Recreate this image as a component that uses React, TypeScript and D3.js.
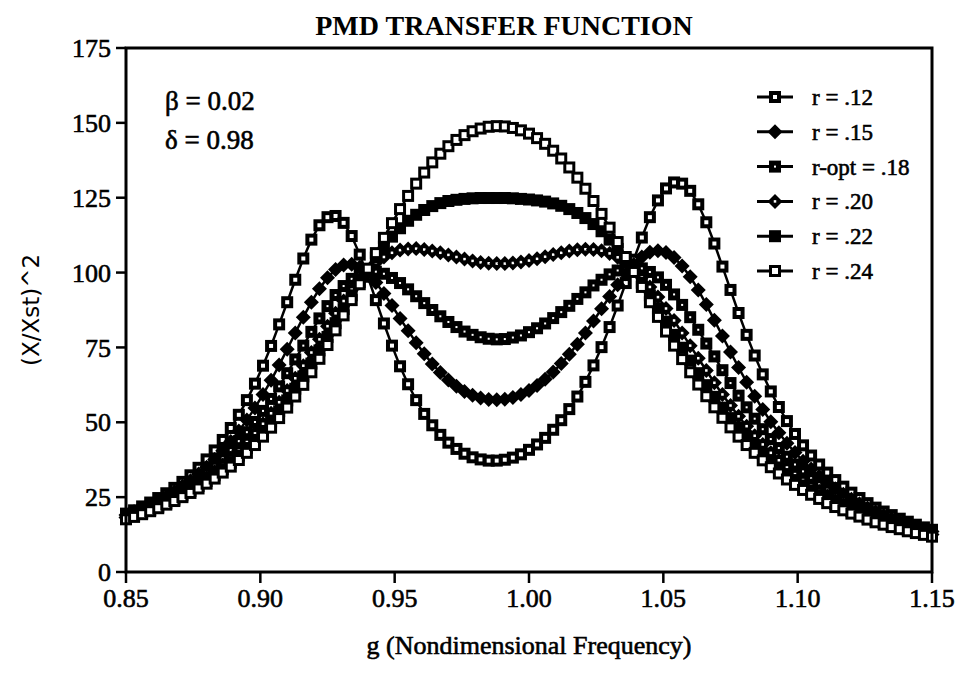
import * as d3 from "d3";

// nondimensional frequency g, one sample every 0.003
const gValues = [
  0.85, 0.853, 0.856, 0.859, 0.862, 0.865, 0.868, 0.871, 0.874, 0.877,
  0.88, 0.883, 0.886, 0.889, 0.892, 0.895, 0.898, 0.901, 0.904, 0.907,
  0.91, 0.913, 0.916, 0.919, 0.922, 0.925, 0.928, 0.931, 0.934, 0.937,
  0.94, 0.943, 0.946, 0.949, 0.952, 0.955, 0.958, 0.961, 0.964, 0.967,
  0.97, 0.973, 0.976, 0.979, 0.982, 0.985, 0.988, 0.991, 0.994, 0.997,
  1.0, 1.003, 1.006, 1.009, 1.012, 1.015, 1.018, 1.021, 1.024, 1.027,
  1.03, 1.033, 1.036, 1.039, 1.042, 1.045, 1.048, 1.051, 1.054, 1.057,
  1.06, 1.063, 1.066, 1.069, 1.072, 1.075, 1.078, 1.081, 1.084, 1.087,
  1.09, 1.093, 1.096, 1.099, 1.102, 1.105, 1.108, 1.111, 1.114, 1.117,
  1.12, 1.123, 1.126, 1.129, 1.132, 1.135, 1.138, 1.141, 1.144, 1.147,
  1.15,
];

// (X/Xst)^2 for each r
const r12 = [
  19.5, 20.6, 21.9, 23.2, 24.7, 26.3, 28.1, 30.1, 32.3, 34.8,
  37.6, 40.6, 44.1, 48.1, 52.5, 57.4, 62.9, 68.9, 75.5, 82.7,
  90.1, 97.6, 104.7, 111.0, 115.8, 118.5, 118.9, 116.6, 112.2, 106.0,
  98.6, 90.8, 83.0, 75.6, 68.7, 62.7, 57.4, 52.8, 49.0, 45.8,
  43.2, 41.1, 39.5, 38.3, 37.6, 37.2, 37.2, 37.5, 38.2, 39.3,
  40.8, 42.6, 44.8, 47.5, 50.7, 54.4, 58.6, 63.5, 69.0, 75.1,
  81.8, 89.0, 96.5, 104.3, 111.7, 118.5, 124.1, 128.1, 130.1, 129.7,
  127.3, 122.8, 116.8, 109.7, 102.0, 94.2, 86.5, 79.2, 72.3, 66.0,
  60.3, 55.1, 50.4, 46.1, 42.3, 38.9, 35.9, 33.2, 30.7, 28.5,
  26.5, 24.7, 23.0, 21.5, 20.2, 19.0, 17.8, 16.8, 15.8, 14.9,
  14.1,
];

const r15 = [
  19.0, 20.1, 21.2, 22.4, 23.8, 25.2, 26.8, 28.6, 30.5, 32.7,
  35.0, 37.6, 40.5, 43.6, 47.1, 50.8, 54.8, 59.3, 64.0, 69.1,
  74.4, 79.8, 85.1, 90.1, 94.6, 98.3, 101.0, 102.5, 102.8, 101.8,
  99.7, 96.7, 93.0, 89.0, 84.7, 80.6, 76.6, 72.9, 69.5, 66.6,
  64.1, 62.0, 60.3, 59.0, 58.1, 57.6, 57.5, 57.7, 58.3, 59.3,
  60.6, 62.3, 64.4, 66.8, 69.6, 72.7, 76.1, 79.8, 83.8, 87.9,
  92.0, 95.9, 99.6, 102.7, 105.2, 106.8, 107.3, 106.7, 105.0, 102.2,
  98.6, 94.2, 89.3, 84.1, 78.8, 73.5, 68.3, 63.4, 58.7, 54.3,
  50.2, 46.5, 43.0, 39.9, 37.0, 34.4, 32.0, 29.8, 27.8, 26.0,
  24.3, 22.8, 21.4, 20.1, 18.9, 17.8, 16.8, 15.9, 15.0, 14.3,
  13.5,
];

const r18 = [
  18.6, 19.6, 20.7, 21.8, 23.0, 24.4, 25.9, 27.5, 29.2, 31.1,
  33.2, 35.5, 38.0, 40.7, 43.7, 46.7, 50.1, 53.8, 57.8, 62.0,
  66.4, 71.0, 75.6, 80.2, 84.7, 88.8, 92.5, 95.5, 97.9, 99.5,
  100.3, 100.3, 99.6, 98.2, 96.5, 94.4, 92.1, 89.8, 87.5, 85.4,
  83.5, 81.8, 80.3, 79.2, 78.4, 77.9, 77.7, 77.8, 78.3, 79.0,
  80.1, 81.4, 83.0, 84.8, 86.8, 88.9, 91.2, 93.4, 95.7, 97.6,
  99.4, 100.7, 101.6, 101.8, 101.4, 100.2, 98.4, 95.9, 92.7, 89.2,
  85.1, 80.9, 76.3, 72.0, 67.4, 63.1, 58.9, 55.0, 51.2, 47.7,
  44.4, 41.4, 38.5, 35.9, 33.6, 31.3, 29.3, 27.5, 25.7, 24.2,
  22.7, 21.4, 20.1, 19.0, 17.9, 17.0, 16.1, 15.2, 14.4, 13.7,
  13.0,
];

const r20 = [
  18.2, 19.1, 20.1, 21.2, 22.3, 23.5, 24.9, 26.3, 27.9, 29.6,
  31.5, 33.5, 35.7, 38.0, 40.6, 43.4, 46.3, 49.5, 53.0, 56.7,
  60.6, 64.7, 68.9, 73.3, 77.7, 82.1, 86.4, 90.5, 94.3, 97.8,
  100.8, 103.3, 105.2, 106.6, 107.5, 107.9, 108.0, 107.7, 107.2, 106.6,
  105.9, 105.2, 104.5, 103.9, 103.4, 103.1, 103.0, 103.0, 103.2, 103.5,
  104.0, 104.6, 105.3, 106.0, 106.6, 107.2, 107.6, 107.8, 107.7, 107.3,
  106.4, 105.1, 103.3, 101.0, 98.4, 95.2, 91.8, 88.0, 84.0, 79.8,
  75.6, 71.4, 67.3, 63.2, 59.3, 55.6, 52.0, 48.7, 45.5, 42.6,
  39.8, 37.3, 34.9, 32.7, 30.7, 28.8, 27.0, 25.4, 23.9, 22.5,
  21.3, 20.1, 19.0, 17.9, 17.0, 16.1, 15.3, 14.5, 13.8, 13.1,
  12.5,
];

const r22 = [
  17.9, 18.8, 19.7, 20.7, 21.8, 23.0, 24.2, 25.6, 27.1, 28.7,
  30.4, 32.3, 34.3, 36.5, 38.9, 41.4, 44.1, 47.1, 50.3, 53.7,
  57.3, 61.2, 65.3, 69.6, 74.0, 78.5, 83.1, 87.8, 92.4, 96.8,
  101.0, 105.0, 108.7, 112.0, 114.8, 117.3, 119.3, 120.9, 122.2, 123.2,
  123.9, 124.3, 124.6, 124.8, 124.9, 124.9, 124.9, 124.9, 124.8, 124.6,
  124.4, 124.1, 123.7, 123.1, 122.3, 121.2, 119.9, 118.2, 116.2, 113.8,
  111.0, 107.9, 104.4, 100.6, 96.6, 92.4, 88.0, 83.6, 79.2, 74.9,
  70.6, 66.4, 62.4, 58.5, 54.9, 51.4, 48.2, 45.1, 42.3, 39.6,
  37.1, 34.8, 32.7, 30.7, 28.9, 27.2, 25.6, 24.1, 22.7, 21.5,
  20.3, 19.2, 18.2, 17.2, 16.4, 15.5, 14.8, 14.0, 13.4, 12.7,
  12.2,
];

const r24 = [
  17.6, 18.4, 19.3, 20.3, 21.3, 22.5, 23.7, 25.0, 26.4, 27.9,
  29.5, 31.2, 33.2, 35.2, 37.4, 39.8, 42.4, 45.2, 48.2, 51.4,
  54.9, 58.6, 62.5, 66.7, 71.2, 75.8, 80.7, 85.7, 90.8, 96.1,
  101.3, 106.5, 111.6, 116.5, 121.2, 125.6, 129.7, 133.4, 136.8, 139.7,
  142.2, 144.3, 145.9, 147.2, 148.1, 148.7, 148.9, 148.8, 148.3, 147.5,
  146.4, 144.9, 143.0, 140.7, 138.1, 135.1, 131.7, 128.0, 123.9, 119.6,
  115.0, 110.2, 105.2, 100.2, 95.2, 90.1, 85.2, 80.3, 75.6, 71.1,
  66.7, 62.6, 58.7, 55.0, 51.5, 48.3, 45.2, 42.4, 39.8, 37.3,
  35.0, 32.9, 30.9, 29.1, 27.4, 25.8, 24.4, 23.0, 21.7, 20.6,
  19.5, 18.5, 17.5, 16.6, 15.8, 15.0, 14.3, 13.6, 13.0, 12.4,
  11.8,
];

const xTicks = [0.85, 0.9, 0.95, 1.0, 1.05, 1.1, 1.15];
const yTicks = [0, 25, 50, 75, 100, 125, 150, 175];

const seriesLabels = ["r = .12", "r = .15", "r-opt = .18", "r = .20", "r = .22", "r = .24"];
const seriesValues = [r12, r15, r18, r20, r22, r24];
// marker shape and size of the white hole in it
const markerShapes = ["square", "diamond", "square", "diamond", "square", "square"];
const markerHoles = [4, 0, 2, 2.5, 0, 6];

const width = 958;
const height = 673;
const margin = { left: 126, right: 26, top: 48, bottom: 101 };

const SERIF = "'Liberation Serif', 'DejaVu Serif', serif";
// the scan's type is heavy, a thin outline thickens the glyphs
const INK = { stroke: "#000", strokeWidth: 0.6 };

const Marker = ({ x, y, shape, hole }) => {
  if (shape === "diamond") {
    const s = 7.5;
    return (
      <g>
        <path d={`M${x},${y - s}L${x + s},${y}L${x},${y + s}L${x - s},${y}Z`} fill="#000" />
        {hole > 0 && (
          <rect x={x - hole / 2} y={y - hole / 2} width={hole} height={hole} fill="#fff" />
        )}
      </g>
    );
  }
  const s = 6;
  return (
    <g>
      <rect x={x - s} y={y - s} width={s * 2} height={s * 2} fill="#000" />
      {hole > 0 && (
        <rect x={x - hole / 2} y={y - hole / 2} width={hole} height={hole} fill="#fff" />
      )}
    </g>
  );
};

export default function App() {
  const x = d3
    .scaleLinear()
    .domain([0.85, 1.15])
    .range([margin.left, width - margin.right]);
  const y = d3
    .scaleLinear()
    .domain([0, 175])
    .range([height - margin.bottom, margin.top]);

  const line = d3
    .line<number>()
    .x((_, i) => x(gValues[i]))
    .y((d) => y(d));

  const x0 = x(0.85);
  const x1 = x(1.15);
  const yb = y(0);
  const yt = y(175);

  const legendX = 775;
  const legendY0 = 97;
  const legendStep = 34.8;

  return (
    <svg
      width={width}
      height={height}
      style={{ position: "absolute", left: 0, top: 0, background: "#fff" }}
    >
      <text
        x={504}
        y={35}
        textAnchor="middle"
        fontFamily={SERIF}
        fontWeight="bold"
        fontSize={28}
      >
        PMD TRANSFER FUNCTION
      </text>

      {/* curves */}
      {seriesValues.map((vals, si) => (
        <g key={si}>
          <path d={line(vals)} fill="none" stroke="#000" strokeWidth={2.5} />
          {vals.map((v, i) => (
            <Marker
              key={i}
              x={x(gValues[i])}
              y={y(v)}
              shape={markerShapes[si]}
              hole={markerHoles[si]}
            />
          ))}
        </g>
      ))}

      {/* frame and ticks */}
      <rect
        x={x0}
        y={yt}
        width={x1 - x0}
        height={yb - yt}
        fill="none"
        stroke="#000"
        strokeWidth={3}
      />
      {yTicks.map((t) => (
        <g key={t}>
          <line x1={x0 - 10} x2={x0} y1={y(t)} y2={y(t)} stroke="#000" strokeWidth={2.5} />
          <text
            x={x0 - 15}
            y={y(t)}
            dy="0.35em"
            textAnchor="end"
            fontFamily={SERIF}
            fontSize={26}
            {...INK}
          >
            {t}
          </text>
        </g>
      ))}
      {xTicks.map((t) => (
        <g key={t}>
          <line x1={x(t)} x2={x(t)} y1={yb} y2={yb + 11} stroke="#000" strokeWidth={2.5} />
          <text
            x={x(t)}
            y={yb + 35}
            textAnchor="middle"
            fontFamily={SERIF}
            fontSize={26}
            {...INK}
          >
            {t.toFixed(2)}
          </text>
        </g>
      ))}

      <text
        x={(x0 + x1) / 2}
        y={654}
        textAnchor="middle"
        fontFamily={SERIF}
        fontSize={26}
        {...INK}
      >
        g (Nondimensional Frequency)
      </text>
      <text
        transform={`translate(31, ${(yt + yb) / 2}) rotate(-90)`}
        textAnchor="middle"
        dy="0.35em"
        fontFamily="'DejaVu Sans', Verdana, sans-serif"
        fontSize={23}
      >
        (X/Xst)^2
      </text>

      {/* parameters */}
      <text x={165} y={110} fontFamily={SERIF} fontSize={27} {...INK}>
        β = 0.02
      </text>
      <text x={165} y={149} fontFamily={SERIF} fontSize={27} {...INK}>
        δ = 0.98
      </text>

      {/* legend */}
      {seriesLabels.map((label, si) => {
        const ly = legendY0 + si * legendStep;
        return (
          <g key={label}>
            <line
              x1={legendX - 18}
              x2={legendX + 18}
              y1={ly}
              y2={ly}
              stroke="#000"
              strokeWidth={3}
            />
            <Marker x={legendX} y={ly} shape={markerShapes[si]} hole={markerHoles[si]} />
            <text x={812} y={ly} dy="0.35em" fontFamily={SERIF} fontSize={23} {...INK}>
              {label}
            </text>
          </g>
        );
      })}
    </svg>
  );
}
